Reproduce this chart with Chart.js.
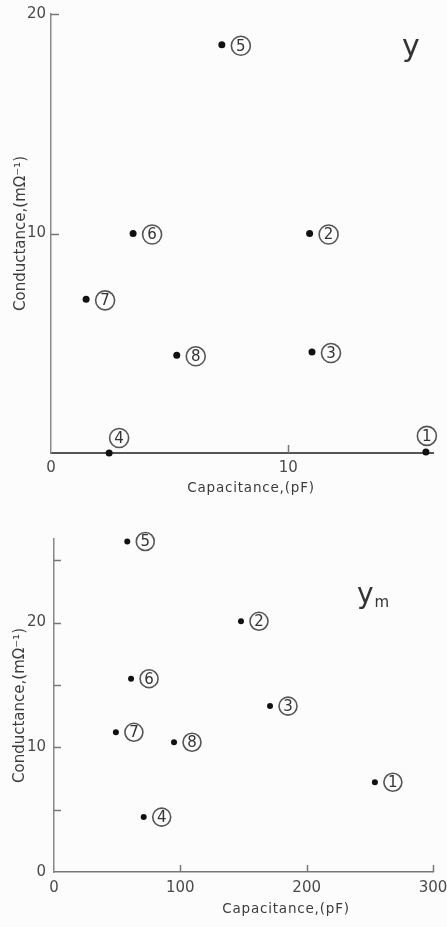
<!DOCTYPE html>
<html>
<head>
<meta charset="utf-8">
<script src="https://cdn.jsdelivr.net/npm/chart.js@4.4.1/dist/chart.umd.min.js"></script>
<style>
  html, body { margin: 0; padding: 0; background: #fcfcfc; }
  #page { position: relative; width: 447px; height: 927px; overflow: hidden;
          font-family: "DejaVu Sans", sans-serif; color: #3a3a3a; }
  canvas { position: absolute; left: 0; }
  .caption { position: absolute; transform: translate(-50%, -50%); white-space: nowrap;
             font-size: 13.5px; letter-spacing: 0.8px; color: #3c3c3c; }
  .sym { position: absolute; color: #333; line-height: 1; }
  .sym sub { font-size: 15px; vertical-align: -4px; margin-left: 1px; }
</style>
</head>
<body>
<div id="page">
  <canvas id="chartY" width="447" height="500" style="top:0"></canvas>
  <canvas id="chartYm" width="447" height="427" style="top:500px"></canvas>
  <div class="caption" style="left:251px; top:487px">Capacitance,(pF)</div>
  <div class="caption" style="left:286px; top:908px">Capacitance,(pF)</div>
  <div class="sym" style="left:402px; top:31px; font-size:30px">y</div>
  <div class="sym" style="left:357px; top:580px; font-size:28px">y<sub>m</sub></div>
</div>
<script>
// Sample numbers shown in the circled markers
const sampleIds = ['1', '2', '3', '4', '5', '6', '7', '8'];

// Admittance y : capacitance (pF) and conductance (mΩ⁻¹)
const capacitanceY = [15.8, 10.9, 11.0, 2.45, 7.2, 3.46, 1.48, 5.3];
const conductanceY = [0.05, 10.0, 4.6, 0.0, 18.6, 10.0, 7.0, 4.45];

// Admittance ym : capacitance (pF) and conductance (mΩ⁻¹)
const capacitanceYm = [254, 148, 171, 71, 58, 61, 49, 95];
const conductanceYm = [7.2, 20.1, 13.3, 4.4, 26.5, 15.5, 11.2, 10.4];

// Axis ranges and tick steps
const rangeY  = { xMax: 16.1, xStep: 10,  yMax: 20,   yStep: 10 };
const rangeYm = { xMax: 300,  xStep: 100, yMax: 26.7, yStep: 5, yLabelStep: 10 };

const yTitle = 'Conductance,(mΩ⁻¹)';
const FONT = '"DejaVu Sans", sans-serif';

// Short tick marks drawn inward from the axes
const innerTicks = {
  id: 'innerTicks',
  afterDraw(chart, args, opts) {
    const { ctx, chartArea } = chart;
    const xs = chart.scales.x, ys = chart.scales.y;
    ctx.save();
    ctx.strokeStyle = opts.color;
    ctx.lineWidth = opts.width;
    ctx.beginPath();
    ys.ticks.forEach(t => {
      if (t.value === 0) return;
      const py = Math.round(ys.getPixelForValue(t.value)) + 0.5;
      ctx.moveTo(chartArea.left, py);
      ctx.lineTo(chartArea.left + opts.length, py);
    });
    xs.ticks.forEach(t => {
      if (t.value === 0) return;
      const px = Math.round(xs.getPixelForValue(t.value)) + 0.5;
      ctx.moveTo(px, chartArea.bottom);
      ctx.lineTo(px, chartArea.bottom - opts.length);
    });
    ctx.stroke();
    ctx.restore();
  }
};

// Circled sample numbers beside each point
const circledLabels = {
  id: 'circledLabels',
  afterDatasetsDraw(chart, args, opts) {
    const ctx = chart.ctx;
    const meta = chart.getDatasetMeta(0);
    meta.data.forEach((pt, i) => {
      const id = opts.ids[i];
      const off = (opts.offsets && opts.offsets[id]) || opts.offset;
      const cx = pt.x + off[0], cy = pt.y + off[1];
      ctx.save();
      ctx.beginPath();
      ctx.arc(cx, cy, opts.radius, 0, Math.PI * 2);
      ctx.lineWidth = 1.6;
      ctx.strokeStyle = '#555';
      ctx.stroke();
      ctx.fillStyle = '#333';
      ctx.font = opts.font;
      ctx.textAlign = 'center';
      ctx.textBaseline = 'middle';
      ctx.fillText(id, cx, cy + 1);
      ctx.restore();
    });
  }
};

function makeChart(canvasId, xs, ys, range, look) {
  const points = xs.map((x, i) => ({ x, y: ys[i] }));
  return new Chart(document.getElementById(canvasId), {
    type: 'scatter',
    data: {
      datasets: [{
        data: points,
        pointRadius: look.pointRadius,
        pointHoverRadius: look.pointRadius,
        pointBackgroundColor: '#111',
        pointBorderWidth: 0,
        clip: false
      }]
    },
    options: {
      responsive: false,
      animation: false,
      devicePixelRatio: 1,
      events: [],
      layout: { padding: { top: look.padTop, right: look.padRight, bottom: 0, left: 0 } },
      plugins: {
        legend: { display: false },
        tooltip: { enabled: false },
        innerTicks: { color: look.tickColor, width: 1.5, length: look.tickLength },
        circledLabels: {
          ids: sampleIds, radius: look.ringRadius, font: look.ringFont,
          offset: look.labelOffset, offsets: look.labelOffsets
        }
      },
      scales: {
        x: {
          type: 'linear',
          min: 0, max: range.xMax,
          afterFit: s => { s.height = look.xAxisHeight; s.paddingRight = 0; },
          grid: { drawOnChartArea: false, drawTicks: false },
          border: { color: look.xBorderColor, width: look.xBorderWidth },
          ticks: {
            stepSize: range.xStep, includeBounds: false, padding: look.xTickPad,
            color: '#4a4a4a', font: { family: FONT, size: 15 }
          }
        },
        y: {
          type: 'linear',
          min: 0, max: range.yMax,
          afterFit: s => { s.width = look.yAxisWidth; },
          grid: { drawOnChartArea: false, drawTicks: false },
          border: { color: look.yBorderColor, width: 1.5 },
          title: {
            display: true, text: yTitle, color: '#3c3c3c',
            font: { family: FONT, size: 15 },
            padding: { top: look.yTitlePad, bottom: 0 }
          },
          ticks: {
            stepSize: range.yStep, includeBounds: false, padding: look.yTickPad,
            color: '#4a4a4a', font: { family: FONT, size: 15 },
            callback: v => look.yLabel(v)
          }
        }
      }
    },
    plugins: [innerTicks, circledLabels]
  });
}

makeChart('chartY', capacitanceY, conductanceY, rangeY, {
  pointRadius: 3.5, padTop: 13, padRight: 14,
  xAxisHeight: 47, yAxisWidth: 51, xTickPad: 6, yTickPad: 5, yTitlePad: 12,
  xBorderColor: '#555', xBorderWidth: 2, yBorderColor: '#8a8a8a',
  tickColor: '#777', tickLength: 8,
  ringRadius: 9.5, ringFont: '15px ' + FONT,
  labelOffset: [19, 1], labelOffsets: { '4': [10, -15], '1': [1, -16] },
  yLabel: v => (v === 0 ? '' : String(v))
});

makeChart('chartYm', capacitanceYm, conductanceYm, rangeYm, {
  pointRadius: 3, padTop: 39, padRight: 14,
  xAxisHeight: 55, yAxisWidth: 54, xTickPad: 7, yTickPad: 8, yTitlePad: 11,
  xBorderColor: '#777', xBorderWidth: 1.5, yBorderColor: '#888',
  tickColor: '#777', tickLength: 7,
  ringRadius: 9, ringFont: '15px ' + FONT,
  labelOffset: [18, 0], labelOffsets: {},
  yLabel: v => (v % rangeYm.yLabelStep === 0 ? String(v) : '')
});
</script>
</body>
</html>
